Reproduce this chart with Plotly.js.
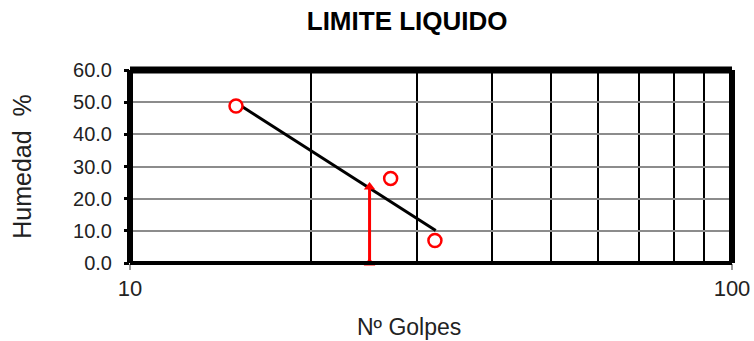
<!DOCTYPE html>
<html>
<head>
<meta charset="utf-8">
<script src="https://cdn.plot.ly/plotly-3.0.1.min.js"></script>
<style>
  html, body { margin: 0; padding: 0; background: #fff; }
  #chart { width: 754px; height: 341px; }
</style>
</head>
<body>
<div id="chart"></div>
<script>
// Ensayo de límite líquido: número de golpes vs humedad
const golpes = [15.0, 27.1, 32.1];
const humedad = [48.8, 26.3, 7.0];

// Recta de ajuste (extremos)
const ajusteX = [15.3, 32.2];
const ajusteY = [48.8, 10.1];

// Lectura a 25 golpes
const lecturaX = [25, 25];
const lecturaY = [0, 23.6];

// Ejes
const xTicks = [10, 100];
const xTickText = ['10', '100'];
const gridX = [20, 30, 40, 50, 60, 70, 80, 90];
const yTicks = [0, 10, 20, 30, 40, 50, 60];

const FONT = 'Liberation Sans, Arial, sans-serif';

const traces = [
  {
    x: ajusteX, y: ajusteY, mode: 'lines', type: 'scatter',
    line: { color: '#000', width: 3 }, hoverinfo: 'skip'
  },
  {
    x: lecturaX, y: lecturaY, mode: 'lines+markers', type: 'scatter',
    line: { color: '#ff0000', width: 3 },
    marker: { symbol: 'triangle-up', size: 10, color: '#ff0000' },
    cliponaxis: false, hoverinfo: 'skip'
  },
  {
    x: golpes, y: humedad, mode: 'markers', type: 'scatter',
    marker: { symbol: 'circle', size: 13, color: '#fff', line: { color: '#ff0000', width: 2.5 } },
    cliponaxis: false
  }
];

const layout = {
  width: 754, height: 341,
  margin: { l: 130, r: 22, t: 70, b: 78 },
  paper_bgcolor: '#fff', plot_bgcolor: '#fff',
  showlegend: false,
  font: { family: FONT, color: '#222' },
  title: {
    text: '<b>LIMITE LIQUIDO</b>',
    font: { family: FONT, size: 26, color: '#000' },
    x: 0.54, xref: 'container', xanchor: 'center',
    y: 0.94, yref: 'container', yanchor: 'middle'
  },
  xaxis: {
    type: 'log', range: [1, 2],
    tickmode: 'array', tickvals: xTicks, ticktext: xTickText,
    showgrid: false,
    ticks: 'outside', ticklen: 6, tickwidth: 2, tickcolor: '#999',
    minor: { tickmode: 'array', tickvals: gridX, showgrid: true, gridcolor: '#000', gridwidth: 2, ticks: '' },
    zeroline: false, showline: false,
    tickfont: { family: FONT, size: 22, color: '#222' }
  },
  yaxis: {
    range: [0, 60],
    tickmode: 'array', tickvals: yTicks, tickformat: '.1f',
    showgrid: true, gridcolor: '#8c8c8c', gridwidth: 2,
    ticks: 'outside', ticklen: 5, tickwidth: 3, tickcolor: '#000',
    ticklabelstandoff: 8,
    zeroline: false, showline: false,
    tickfont: { family: FONT, size: 20, color: '#222' },
    title: { text: 'Humedad\u00a0 %', font: { family: FONT, size: 25, color: '#222' }, standoff: 34 }
  },
  annotations: [
    {
      text: 'Nº Golpes', showarrow: false,
      xref: 'paper', x: 0.4635, xanchor: 'center',
      yref: 'paper', y: -0.33, yanchor: 'middle',
      font: { family: FONT, size: 23, color: '#222' }
    }
  ],
  shapes: [
    // marco del área de trazado
    { type: 'line', xref: 'paper', yref: 'paper', x0: 0, x1: 1, y0: 1, y1: 1, line: { color: '#000', width: 7 } },
    { type: 'line', xref: 'paper', yref: 'paper', x0: 0, x1: 0, y0: 0, y1: 1, line: { color: '#000', width: 6 } },
    { type: 'line', xref: 'paper', yref: 'paper', x0: 1, x1: 1, y0: 0, y1: 1, line: { color: '#000', width: 6 } },
    { type: 'line', xref: 'paper', yref: 'paper', x0: 0, x1: 1, y0: 0, y1: 0, line: { color: '#000', width: 4 } }
  ]
};

Plotly.newPlot('chart', traces, layout, { displayModeBar: false, staticPlot: true });
</script>
</body>
</html>
